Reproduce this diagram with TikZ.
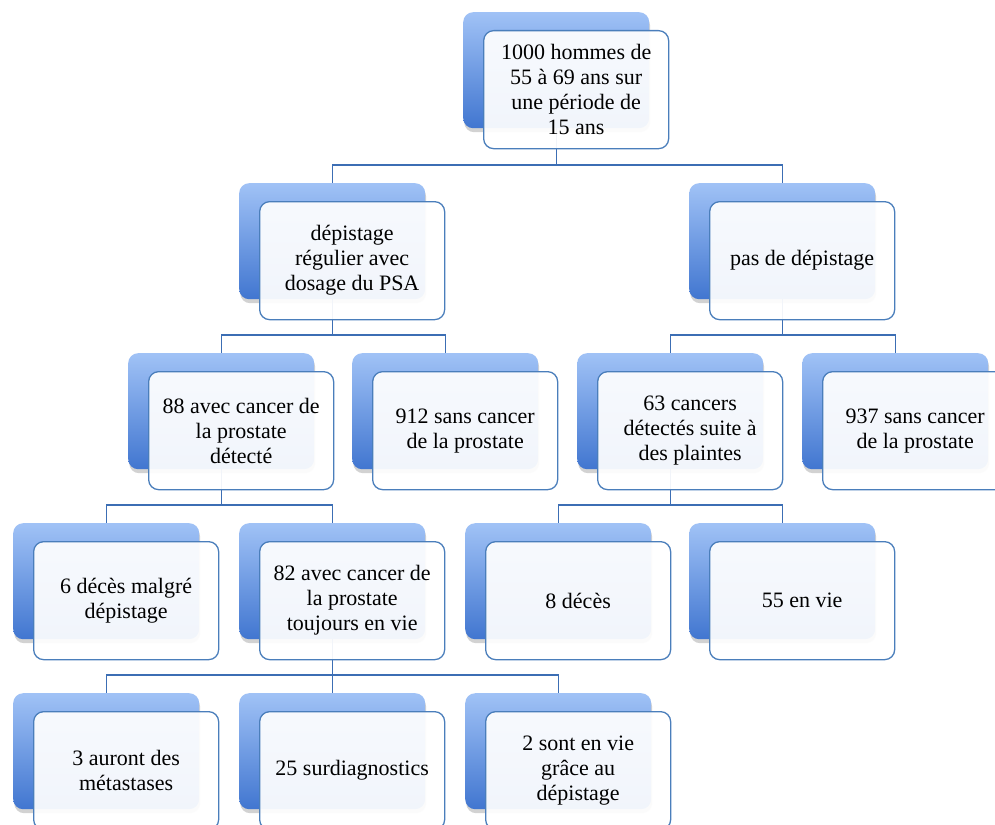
\documentclass[tikz,border=0pt]{standalone}
\usepackage{fontspec}
\setmainfont{Liberation Serif}
\usetikzlibrary{shadows,calc}
\definecolor{lightb}{HTML}{A0C2F6}
\definecolor{darkb}{HTML}{4176D0}
\definecolor{edgeb}{HTML}{4A7EBB}
\definecolor{lineb}{HTML}{3C6EB4}
\pgfdeclarelayer{bgl}
\pgfdeclarelayer{backl}
\pgfdeclarelayer{linel}
\pgfsetlayers{bgl,backl,linel,main}
\tikzset{
  backbox/.style={anchor=north west, minimum width=186pt, minimum height=116pt, inner sep=0pt,
    rounded corners=10pt, top color=lightb, bottom color=darkb, draw=none,
    drop shadow={shadow xshift=1pt, shadow yshift=-4pt, opacity=0.25, fill=black!70}},
  frontbox/.style={anchor=north west, minimum width=185pt, minimum height=118pt, inner sep=2pt,
    rounded corners=10pt, draw=edgeb, line width=1.3pt, fill=white, fill opacity=0.93, text opacity=1,
    align=center, font=\fontsize{22}{25}\selectfont},
  conn/.style={draw=lineb, line width=1.3pt}
}
\newcommand\mybox[4]{%
  \begin{pgfonlayer}{backl}\node[backbox] (#1b) at (#2,-#3) {};\end{pgfonlayer}
  \node[frontbox] (#1) at (#2+20,-#3-18) {#4};}
\begin{document}
\begin{tikzpicture}[x=1pt,y=1pt]
\useasboundingbox (0,0) rectangle (995,-824);
\begin{pgfonlayer}{bgl}\fill[white] (0,0) rectangle (995,-824);\end{pgfonlayer}
\mybox{root}{463}{12}{1000 hommes de\\55 à 69 ans sur\\une période de\\15 ans}
\mybox{dep}{239}{183}{dépistage\\régulier avec\\dosage du PSA}
\mybox{pas}{689}{183}{pas de dépistage}
\mybox{ca}{128}{353}{88 avec cancer de\\la prostate\\détecté}
\mybox{sa}{352}{353}{912 sans cancer\\de la prostate}
\mybox{cb}{577}{353}{63 cancers\\détectés suite à\\des plaintes}
\mybox{sb}{802}{353}{937 sans cancer\\de la prostate}
\mybox{da}{13}{523}{6 décès malgré\\dépistage}
\mybox{cc}{239}{523}{82 avec cancer de\\la prostate\\toujours en vie}
\mybox{db}{465}{523}{8 décès}
\mybox{vb}{689}{523}{55 en vie}
\mybox{ma}{13}{693}{3 auront des\\métastases}
\mybox{sd}{239}{693}{25 surdiagnostics}
\mybox{va}{465}{693}{2 sont en vie\\grâce au\\dépistage}
\begin{pgfonlayer}{linel}
\foreach \p/\c in {root/dep, root/pas, dep/ca, dep/sa, pas/cb, pas/sb, ca/da, ca/cc, cb/db, cb/vb, cc/ma, cc/sd, cc/va}{
  \draw[conn] (\p b.south) |- ($(\c b.north)+(0,18)$) -- (\c b.north);
}
\end{pgfonlayer}
\end{tikzpicture}
\end{document}
